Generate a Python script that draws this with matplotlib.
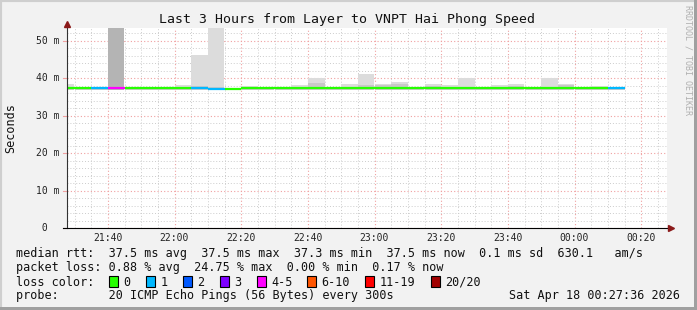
import datetime as dt
import matplotlib
matplotlib.use("Agg")
import matplotlib.pyplot as plt
import matplotlib.dates as mdates
from matplotlib.patches import Rectangle

plt.rcParams['font.family'] = 'DejaVu Sans Mono'

# 5 minute bins (start time), median rtt (ms), lost pings of 20, smoke top / inner band (ms)
bin_start = ["21:25", "21:30", "21:35", "21:40", "21:45", "21:50", "21:55",
             "22:00", "22:05", "22:10", "22:15", "22:20", "22:25", "22:30",
             "22:35", "22:40", "22:45", "22:50", "22:55", "23:00", "23:05",
             "23:10", "23:15", "23:20", "23:25", "23:30", "23:35", "23:40",
             "23:45", "23:50", "23:55", "00:00", "00:05", "00:10"]
median = [37.5, 37.5, 37.5, 37.5, 37.5, 37.5, 37.5,
          37.5, 37.5, 37.2, 37.2, 37.5, 37.5, 37.5,
          37.5, 37.5, 37.5, 37.5, 37.5, 37.5, 37.5,
          37.5, 37.5, 37.5, 37.5, 37.5, 37.5, 37.5,
          37.5, 37.5, 37.5, 37.5, 37.5, 37.5]
loss = [0, 0, 1, 4, 0, 0, 0,
        0, 1, 1, 0, 0, 0, 0,
        0, 0, 0, 0, 0, 0, 0,
        0, 0, 0, 0, 0, 0, 0,
        0, 0, 0, 0, 0, 1]
smoke_max = [38.4, 37.6, 37.6, 60.0, 37.6, 37.6, 37.6,
             38.2, 46.1, 60.0, 37.4, 37.9, 37.6, 37.6,
             38.1, 40.0, 37.6, 38.4, 41.1, 38.6, 38.9,
             37.6, 38.4, 38.1, 40.0, 37.6, 38.2, 38.4,
             37.7, 40.0, 38.4, 37.6, 37.9, 37.6]
smoke_mid = [37.8, 37.5, 37.5, 60.0, 37.5, 37.5, 37.5,
             37.8, 38.0, 37.8, 37.3, 37.8, 37.5, 37.5,
             37.8, 38.7, 37.5, 37.8, 38.1, 38.2, 38.4,
             37.5, 37.9, 37.8, 37.8, 37.5, 37.8, 38.0,
             37.5, 37.8, 38.1, 37.5, 37.8, 37.5]
smoke_min = 36.9

loss_labels = ["0", "1", "2", "3", "4-5", "6-10", "11-19", "20/20"]
loss_colors = ["#26ff00", "#00b8ff", "#0059ff", "#7e00ff", "#ff00ff", "#ff5500", "#ff0000", "#a10000"]


def loss_color(n):
    if n <= 3:
        return loss_colors[n]
    if n <= 5:
        return loss_colors[4]
    if n <= 10:
        return loss_colors[5]
    if n <= 19:
        return loss_colors[6]
    return loss_colors[7]


def to_time(s):
    h, m = [int(v) for v in s.split(":")]
    day = 17 if h >= 12 else 18
    return dt.datetime(2026, 4, day, h, m)


W, H = 697, 310
fig = plt.figure(figsize=(W / 100, H / 100), dpi=100, facecolor="#f2f2f2")

# bevel border
fig.add_artist(Rectangle((0, 0), 1, 1, transform=fig.transFigure, fill=False,
                         edgecolor="#cfcfcf", lw=3))
fig.add_artist(Rectangle((694 / W, 0), 3 / W, 1, transform=fig.transFigure,
                         color="#a0a0a0", lw=0))
fig.add_artist(Rectangle((0, 0), 1, 3 / H, transform=fig.transFigure,
                         color="#a0a0a0", lw=0))

x0, x1, ytop, ybot = 66.5, 666.5, 28.0, 228.3
ax = fig.add_axes([x0 / W, 1 - ybot / H, (x1 - x0) / W, (ybot - ytop) / H])
ax.set_facecolor("white")

starts = [to_time(s) for s in bin_start]
width = 5 / 1440.0

# smoke
light = [mx - smoke_min for mx in smoke_max]
ax.bar(starts, light, bottom=smoke_min, width=width, align="edge",
       color="#dcdcdc", lw=0, zorder=2)
dark = [md - smoke_min for md in smoke_mid]
ax.bar(starts, dark, bottom=smoke_min, width=width, align="edge",
       color=["#b4b4b4" if n >= 4 else "#c8c8c8" for n in loss], lw=0, zorder=2)

# median line coloured by loss
for t, m, n in zip(starts, median, loss):
    ax.hlines(m, t, t + dt.timedelta(minutes=5), colors=loss_color(n), lw=1.6, zorder=4)

ax.set_xlim(dt.datetime(2026, 4, 17, 21, 27, 36), dt.datetime(2026, 4, 18, 0, 27, 36))
ax.set_ylim(0, 53.4)

ax.xaxis.set_major_locator(mdates.MinuteLocator(byminute=[0, 20, 40]))
ax.xaxis.set_minor_locator(mdates.MinuteLocator(byminute=range(0, 60, 5)))
ax.set_yticks(range(0, 51, 10))
ax.set_yticks(range(0, 54, 2), minor=True)
ax.grid(which="minor", color="#cccccc", ls=(0, (1, 2)), lw=0.7, zorder=1)
ax.grid(which="major", color="#f0a0a0", ls=(0, (1, 2)), lw=0.8, zorder=1)
ax.set_axisbelow(True)
ax.tick_params(which="both", length=0, labelbottom=False, labelleft=False)
for sp in ax.spines.values():
    sp.set_visible(False)

# axis lines with arrows
ax.plot([0, 0], [0, 1.015], transform=ax.transAxes, color="#333333", lw=0.8, clip_on=False, zorder=5)
ax.plot([-0.006, 1.005], [0, 0], transform=ax.transAxes, color="black", lw=0.8, clip_on=False, zorder=5)
ax.plot([0], [1.02], transform=ax.transAxes, marker="^", ms=4, color="#8b1a1a", clip_on=False, zorder=6)
ax.plot([1.008], [0], transform=ax.transAxes, marker=">", ms=4, color="#8b1a1a", clip_on=False, zorder=6)

# tick labels
for t in mdates.num2date(ax.xaxis.get_majorticklocs()):
    ax.text(t, -0.05, t.strftime("%H:%M"), transform=ax.get_xaxis_transform(),
            ha="center", va="center", fontsize=7, color="#222222")
for v in range(0, 51, 10):
    lab = "%d m" % v if v else " 0"
    ax.text(-30.5 / (x1 - x0), v, lab, transform=ax.get_yaxis_transform(),
            ha="left", va="center", fontsize=7, color="#222222")
    ax.plot([-0.006, 0], [v, v], transform=ax.get_yaxis_transform(), color="#f0a0a0",
            lw=0.8, clip_on=False)

# texts
fig.text(347 / W, 1 - 19 / H, "Last 3 Hours from Layer to VNPT Hai Phong Speed",
         ha="center", va="center", fontsize=9.5, color="#111111")
fig.text(10.5 / W, 1 - 128 / H, "Seconds", rotation=90, ha="center", va="center",
         fontsize=8.5, color="#111111")
fig.text(688 / W, 1 - 5 / H, "RRDTOOL / TOBI OETIKER", rotation=270, ha="center",
         va="top", fontsize=6, color="#b0b0b0")

lx = 16 / W
fig.text(lx, 1 - 254 / H,
         "median rtt:  37.5 ms avg  37.5 ms max  37.3 ms min  37.5 ms now  0.1 ms sd  630.1   am/s",
         ha="left", va="center", fontsize=8.5, color="#111111")
fig.text(lx, 1 - 268 / H,
         "packet loss: 0.88 % avg  24.75 % max  0.00 % min  0.17 % now",
         ha="left", va="center", fontsize=8.5, color="#111111")
fig.text(lx, 1 - 282 / H, "loss color:", ha="left", va="center", fontsize=8.5, color="#111111")
box_x = [108.7, 145.7, 182.7, 219.7, 256.7, 307, 365, 430.7]
for bx, lab, col in zip(box_x, loss_labels, loss_colors):
    fig.add_artist(Rectangle((bx / W, 1 - 287 / H), 9 / W, 11 / H, transform=fig.transFigure,
                             facecolor=col, edgecolor="black", lw=0.8))
    fig.text((bx + 14.6) / W, 1 - 282 / H, lab, ha="left", va="center", fontsize=8.5, color="#111111")
fig.text(lx, 1 - 296 / H, "probe:       20 ICMP Echo Pings (56 Bytes) every 300s",
         ha="left", va="center", fontsize=8.5, color="#111111")
fig.text(680 / W, 1 - 296 / H, "Sat Apr 18 00:27:36 2026", ha="right", va="center",
         fontsize=8.5, color="#111111")

fig.savefig("out.png", dpi=100, facecolor=fig.get_facecolor())
